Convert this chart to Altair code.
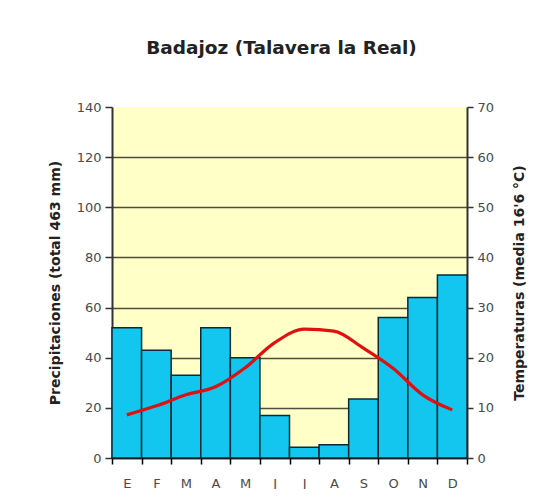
import altair as alt
import pandas as pd

meses = ["E", "F", "M", "A", "M", "J", "J", "A", "S", "O", "N", "D"]
precipitaciones = [52, 43, 33, 52, 40, 17, 4.3, 5.3, 23.5, 56, 64, 73]
temperaturas = [8.6, 10.4, 12.6, 14.2, 18.0, 23.0, 25.7, 25.3, 21.9, 17.9, 12.6, 9.6]

df = pd.DataFrame({
    "idx": list(range(len(meses))),
    "mes": meses,
    "prec": precipitaciones,
    "temp": temperaturas,
})

label_expr = "[" + ",".join("'" + m + "'" for m in meses) + "][datum.value]"
FONT = "DejaVu Sans"

x = alt.X(
    "idx:O",
    scale=alt.Scale(paddingInner=0, paddingOuter=0),
    axis=alt.Axis(
        title=None, labelExpr=label_expr, labelAngle=0, tickBand="extent",
        domainColor="black", domainWidth=1.5, tickColor="black", tickWidth=1.5,
        tickSize=6, labelPadding=13, labelFontSize=13, labelColor="#4a4a4a",
        labelFont=FONT, grid=False,
    ),
)

bars = alt.Chart(df).mark_bar(
    color="#12c6f0", stroke="#0a2a35", strokeWidth=1.5
).encode(
    x=x,
    y=alt.Y(
        "prec:Q",
        scale=alt.Scale(domain=[0, 140], nice=False),
        axis=alt.Axis(
            title="Precipitaciones (total 463 mm)", values=list(range(0, 141, 20)),
            grid=True, gridColor="#4e4e3e", gridWidth=1.5,
            gridOpacity=alt.condition("datum.value >= 140", alt.value(0), alt.value(1)),
            domainColor="#333", domainWidth=2, tickColor="#333", tickWidth=1.5, tickSize=7,
            labelFontSize=13, labelColor="#4a4a4a", labelFont=FONT, labelPadding=4,
            titleFont=FONT, titleFontSize=14, titleFontWeight="bold", titleColor="#222",
            titlePadding=14,
        ),
    ),
)

line = alt.Chart(df).mark_line(
    color="#e01010", strokeWidth=3.2, interpolate="monotone"
).encode(
    x=x,
    y=alt.Y(
        "temp:Q",
        scale=alt.Scale(domain=[0, 70], nice=False),
        axis=alt.Axis(
            orient="right", title="Temperaturas (media 16'6 °C)", values=list(range(0, 71, 10)),
            grid=False, domainColor="#333", domainWidth=2, tickColor="#333", tickWidth=1.5,
            tickSize=6, labelFontSize=13, labelColor="#4a4a4a", labelFont=FONT, labelPadding=4,
            titleFont=FONT, titleFontSize=14, titleFontWeight="bold", titleColor="#222",
            titlePadding=33, titleAngle=270,
        ),
    ),
)

chart = alt.layer(bars, line).resolve_scale(y="independent").properties(
    width=355,
    height=351,
    title=alt.TitleParams(
        "Badajoz (Talavera la Real)", font=FONT, fontSize=18.5, fontWeight="bold",
        color="#222", anchor="middle", offset=44, dx=-8,
    ),
    autosize=alt.AutoSizeParams(type="none"),
    padding={"left": 104, "top": 99, "right": 71, "bottom": 31},
    background="white",
    view=alt.ViewBackground(fill="#ffffc8", stroke=None),
)

chart.save("out.html", embed_options={"renderer": "svg", "actions": False})
